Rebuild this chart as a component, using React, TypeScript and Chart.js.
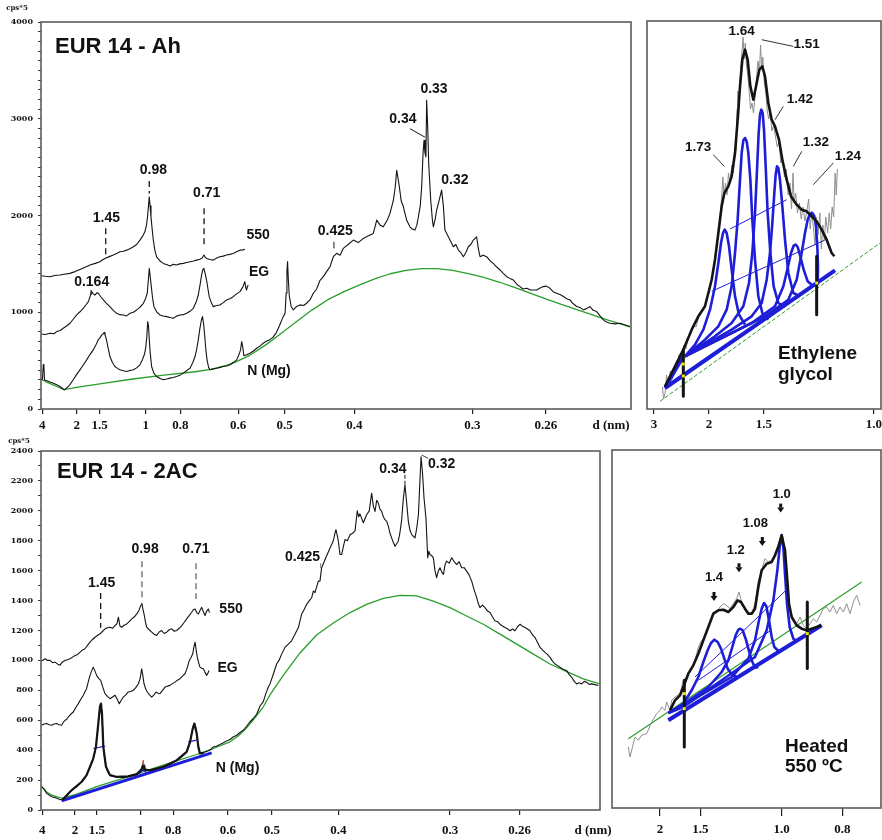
import React, { useEffect, useRef } from "react";
import { Chart, registerables } from "chart.js";
Chart.register(...registerables);

type P = [number, number];

// ---------- axis tick labels (d-spacing, nm) ----------
const WAVELENGTH_NM = 0.15406; // Cu K-alpha
const twoTheta = (d: number) => (2 * Math.asin(WAVELENGTH_NM / (2 * d)) * 180) / Math.PI;

const D_TICKS_MAIN = [4, 2, 1.5, 1, 0.8, 0.6, 0.5, 0.4, 0.3, 0.26];
const D_LABELS_MAIN = ["4", "2", "1.5", "1", "0.8", "0.6", "0.5", "0.4", "0.3", "0.26"];
const D_TICKS_EG = [3, 2, 1.5, 1.0];
const D_LABELS_EG = ["3", "2", "1.5", "1.0"];
const D_TICKS_HEAT = [2, 1.5, 1.0, 0.8];
const D_LABELS_HEAT = ["2", "1.5", "1.0", "0.8"];
const Y_LABELS_AH = [0, 1000, 2000, 3000, 4000];
const Y_LABELS_2AC = [0, 200, 400, 600, 800, 1000, 1200, 1400, 1600, 1800, 2000, 2200, 2400];

// ---------- EUR 14 - Ah (x: 2theta deg, y: cps*5) ----------
const AH_550: P[] = [[2.15,1378],[2.4,1372],[2.7,1367],[3.0,1380],[3.34,1385],[3.6,1392],[3.98,1402],[4.3,1420],[4.62,1443],[4.95,1465],[5.26,1488],[5.6,1505],[5.9,1522],[6.05,1540],[6.22,1556],[6.5,1575],[6.76,1591],[7.0,1610],[7.18,1626],[7.4,1630],[7.61,1642],[7.85,1660],[8.04,1677],[8.25,1700],[8.46,1745],[8.65,1790],[8.78,1831],[8.88,1900],[8.95,1990],[9.02,2120],[9.06,2192],[9.11,2100],[9.17,1986],[9.25,1850],[9.32,1745],[9.42,1640],[9.53,1573],[9.75,1530],[9.96,1505],[10.2,1490],[10.39,1477],[10.6,1495],[10.81,1488],[11.0,1500],[11.24,1505],[11.45,1515],[11.67,1522],[11.9,1530],[12.09,1539],[12.3,1548],[12.45,1560],[12.56,1591],[12.64,1570],[12.73,1556],[12.95,1545],[13.16,1539],[13.38,1560],[13.58,1573],[13.8,1580],[14.01,1591],[14.22,1598],[14.44,1608],[14.65,1625],[14.87,1642],[15.05,1645],[15.18,1650]];
const AH_EG: P[] = [[2.15,776],[2.4,770],[2.7,783],[2.95,778],[3.13,800],[3.35,812],[3.55,835],[3.78,860],[3.98,886],[4.2,930],[4.41,972],[4.62,1005],[4.83,1041],[5.0,1075],[5.16,1110],[5.28,1170],[5.37,1213],[5.47,1190],[5.58,1178],[5.7,1200],[5.8,1196],[5.95,1160],[6.12,1127],[6.33,1090],[6.54,1058],[6.75,1020],[6.97,989],[7.18,975],[7.4,972],[7.6,962],[7.83,989],[8.04,1000],[8.25,1024],[8.46,1050],[8.68,1092],[8.82,1140],[8.93,1196],[9.0,1330],[9.06,1453],[9.12,1370],[9.19,1265],[9.27,1150],[9.36,1058],[9.55,1000],[9.74,972],[9.96,962],[10.17,955],[10.4,945],[10.6,938],[10.81,960],[11.02,972],[11.24,975],[11.45,989],[11.67,1010],[11.88,1041],[12.05,1100],[12.2,1178],[12.32,1290],[12.41,1384],[12.49,1440],[12.56,1453],[12.64,1400],[12.73,1333],[12.82,1240],[12.9,1161],[13.03,1100],[13.16,1058],[13.38,1070],[13.58,1075],[13.8,1100],[14.01,1127],[14.22,1140],[14.44,1161],[14.65,1190],[14.87,1213],[15.05,1260],[15.18,1316],[15.25,1250],[15.29,1230],[15.35,1265],[15.4,1282]];
const AH_NMG: P[] = [[2.15,300],[2.22,310],[2.27,460],[2.31,440],[2.35,300],[2.5,292],[2.7,280],[2.92,267],[3.13,250],[3.34,233],[3.5,212],[3.62,198],[3.75,215],[3.88,233],[4.03,265],[4.19,302],[4.4,355],[4.62,405],[4.83,455],[5.05,508],[5.25,560],[5.47,611],[5.63,660],[5.79,714],[5.92,740],[6.02,766],[6.1,775],[6.16,790],[6.22,770],[6.28,740],[6.35,690],[6.45,610],[6.54,542],[6.7,480],[6.86,439],[7.02,420],[7.18,405],[7.4,395],[7.61,388],[7.82,398],[8.04,405],[8.25,425],[8.46,457],[8.62,510],[8.74,560],[8.83,630],[8.9,740],[8.96,904],[9.01,860],[9.06,720],[9.12,580],[9.21,439],[9.35,370],[9.53,336],[9.75,315],[9.96,302],[10.18,310],[10.39,319],[10.6,325],[10.81,336],[11.03,350],[11.24,371],[11.45,395],[11.67,422],[11.85,480],[11.99,542],[12.1,620],[12.2,714],[12.3,830],[12.4,920],[12.47,955],[12.54,880],[12.61,760],[12.68,620],[12.76,508],[12.86,430],[12.95,405],[13.16,415],[13.38,422],[13.6,430],[13.8,439],[14.02,445],[14.23,457],[14.44,480],[14.66,508],[14.8,560],[14.91,611],[14.98,697],[15.05,640],[15.12,550],[15.3,560],[15.51,577],[15.72,600],[15.94,628],[16.15,650],[16.36,680],[16.55,700],[16.75,714],[16.98,740],[17.2,790],[17.4,860],[17.55,921],[17.66,960],[17.76,990],[17.83,1200],[17.88,1430],[17.92,1523],[17.97,1330],[18.03,1170],[18.15,1060],[18.29,1024],[18.5,1060],[18.72,1076],[18.95,1070],[19.14,1093],[19.36,1130],[19.57,1196],[19.78,1240],[20.0,1330],[20.21,1368],[20.42,1420],[20.64,1471],[20.85,1574],[21.07,1609],[21.28,1590],[21.49,1660],[21.8,1700],[22.13,1746],[22.45,1720],[22.77,1763],[23.1,1790],[23.41,1815],[23.55,1900],[23.63,1952],[23.85,1900],[24.05,1883],[24.3,1950],[24.48,2021],[24.7,2158],[24.82,2300],[24.91,2468],[25.0,2380],[25.08,2296],[25.2,2150],[25.34,2090],[25.55,1950],[25.76,1883],[25.9,1860],[26.08,1849],[26.2,1900],[26.3,1987],[26.42,2100],[26.51,2296],[26.6,2650],[26.66,2777],[26.72,2650],[26.78,2605],[26.83,3190],[26.9,2900],[26.96,2537],[27.09,2158],[27.2,1950],[27.26,1883],[27.36,1950],[27.47,2055],[27.62,2150],[27.79,2262],[27.9,2100],[28.0,1849],[28.22,1780],[28.54,1677],[28.7,1700],[28.86,1643],[29.0,1620],[29.18,1574],[29.35,1620],[29.5,1677],[29.66,1700],[29.82,1746],[30.03,1780],[30.15,1650],[30.25,1574],[30.45,1590],[30.67,1574],[30.9,1530],[31.1,1505],[31.3,1470],[31.53,1437],[31.75,1400],[31.96,1368],[32.17,1350],[32.38,1334],[32.6,1290],[32.81,1265],[33.0,1240],[33.24,1248],[33.5,1230],[33.88,1230],[34.1,1250],[34.3,1265],[34.5,1270],[34.73,1248],[34.95,1210],[35.16,1196],[35.4,1180],[35.59,1162],[35.8,1140],[36.01,1127],[36.2,1090],[36.44,1059],[36.65,1050],[36.87,1024],[37.1,1040],[37.29,1059],[37.5,1020],[37.72,1007],[37.95,960],[38.15,921],[38.35,900],[38.58,887],[38.9,880],[39.22,887],[39.5,870],[39.86,852]];
const AH_BACKGROUND: P[] = [[2.15,305],[2.6,270],[3.1,235],[3.6,200],[4.5,225],[6.0,262],[8.0,310],[10.0,350],[12.0,385],[13.0,410],[14.0,450],[14.5,480],[15.5,555],[16.5,660],[17.5,780],[18.5,905],[19.5,1025],[20.5,1130],[21.5,1210],[22.5,1280],[23.5,1345],[24.5,1398],[25.5,1432],[26.5,1450],[27.5,1450],[28.5,1432],[29.5,1400],[30.5,1360],[31.5,1310],[32.5,1255],[33.5,1195],[34.5,1135],[35.5,1080],[36.5,1025],[37.5,970],[38.5,915],[39.86,850]];

// ---------- EUR 14 - 2AC ----------
const AC_550: P[] = [[2.16,995],[2.39,1011],[2.56,1000],[2.73,1000],[2.9,985],[3.07,989],[3.25,975],[3.4,968],[3.57,990],[3.74,1000],[3.9,1005],[4.08,1011],[4.25,1022],[4.42,1033],[4.6,1040],[4.76,1055],[4.93,1070],[5.09,1078],[5.26,1100],[5.43,1122],[5.6,1140],[5.77,1155],[5.95,1168],[6.11,1178],[6.28,1195],[6.45,1211],[6.62,1218],[6.78,1222],[6.95,1215],[7.12,1233],[7.25,1245],[7.35,1289],[7.45,1230],[7.57,1222],[7.74,1235],[7.91,1244],[8.08,1260],[8.25,1278],[8.42,1290],[8.59,1311],[8.72,1330],[8.81,1355],[8.88,1370],[8.94,1382],[9.0,1345],[9.08,1311],[9.17,1260],[9.26,1222],[9.43,1205],[9.6,1189],[9.77,1175],[9.93,1167],[10.1,1190],[10.27,1200],[10.44,1180],[10.61,1189],[10.78,1205],[10.95,1211],[11.12,1195],[11.29,1200],[11.46,1215],[11.63,1233],[11.8,1255],[11.96,1278],[12.13,1300],[12.3,1322],[12.42,1340],[12.53,1344],[12.64,1320],[12.75,1311],[12.87,1335],[12.98,1355],[13.09,1325],[13.2,1300],[13.32,1330],[13.43,1344],[13.5,1320]];
const AC_EG: P[] = [[2.16,567],[2.33,575],[2.5,578],[2.67,570],[2.84,567],[3.0,575],[3.18,578],[3.35,570],[3.51,567],[3.62,585],[3.74,600],[3.85,605],[3.96,622],[4.13,640],[4.3,655],[4.47,685],[4.64,711],[4.81,740],[4.98,767],[5.09,790],[5.2,811],[5.32,860],[5.43,900],[5.54,930],[5.65,955],[5.76,930],[5.88,900],[6.01,880],[6.15,867],[6.3,820],[6.44,778],[6.61,760],[6.78,744],[6.95,755],[7.12,767],[7.27,740],[7.41,711],[7.55,735],[7.68,755],[7.85,770],[8.02,789],[8.19,792],[8.36,800],[8.53,820],[8.7,844],[8.82,880],[8.92,944],[9.0,900],[9.08,844],[9.19,810],[9.3,789],[9.45,770],[9.6,755],[9.75,770],[9.89,789],[10.03,780],[10.16,778],[10.33,800],[10.5,822],[10.67,828],[10.83,833],[11.0,845],[11.17,855],[11.34,868],[11.51,878],[11.68,895],[11.85,911],[12.0,950],[12.14,1000],[12.26,1020],[12.37,1044],[12.45,1090],[12.53,1122],[12.6,1070],[12.68,1022],[12.77,985],[12.86,955],[12.97,948],[13.09,944],[13.2,920],[13.31,900],[13.4,915],[13.47,933]];
const AC_NMG: P[] = [[2.16,156],[2.33,140],[2.5,111],[2.67,100],[2.84,89],[3.0,85],[3.18,78],[3.35,72],[3.52,67],[3.68,80],[3.85,100],[4.02,118],[4.19,133],[4.36,145],[4.53,156],[4.7,172],[4.87,189],[5.03,210],[5.2,233],[5.32,260],[5.43,289],[5.55,315],[5.65,344],[5.75,380],[5.83,422],[5.92,500],[5.99,578],[6.05,650],[6.1,689],[6.17,711],[6.24,644],[6.29,530],[6.33,422],[6.42,340],[6.51,289],[6.65,250],[6.78,233],[6.95,225],[7.12,222],[7.3,218],[7.46,222],[7.7,215],[7.91,222],[8.15,228],[8.36,233],[8.55,238],[8.69,244],[8.82,258],[8.92,278],[8.98,300],[9.03,322],[9.08,295],[9.14,271],[9.3,265],[9.48,267],[9.7,272],[9.93,278],[10.15,284],[10.38,289],[10.6,297],[10.83,307],[11.05,318],[11.28,333],[11.45,343],[11.62,356],[11.8,370],[11.96,389],[12.08,420],[12.19,455],[12.28,500],[12.37,544],[12.48,578],[12.56,560],[12.64,511],[12.7,460],[12.75,422],[12.86,378],[12.97,385],[13.09,382],[13.25,390],[13.43,396],[13.6,405],[13.76,422],[13.93,425],[14.1,433],[14.27,442],[14.44,449],[14.66,462],[14.89,471],[15.1,488],[15.34,500],[15.56,518],[15.79,533],[16.01,560],[16.24,590],[16.45,610],[16.69,640],[16.92,695],[17.14,725],[17.3,775],[17.48,822],[17.59,843],[17.82,909],[18.04,976],[18.2,1000],[18.38,1042],[18.6,1087],[18.83,1109],[19.05,1131],[19.28,1175],[19.51,1220],[19.73,1309],[19.9,1340],[20.07,1375],[20.25,1400],[20.41,1419],[20.52,1464],[20.63,1453],[20.86,1530],[20.97,1530],[21.08,1620],[21.25,1660],[21.42,1700],[21.65,1752],[21.87,1800],[21.98,1850],[22.05,1874],[22.15,1830],[22.21,1797],[22.32,1708],[22.43,1708],[22.55,1760],[22.66,1808],[22.82,1800],[23.0,1840],[23.17,1850],[23.34,1868],[23.49,2000],[23.58,1960],[23.67,1980],[23.9,1920],[24.12,1974],[24.3,2000],[24.46,2118],[24.58,2030],[24.69,1996],[24.8,2070],[24.91,2052],[25.03,2010],[25.14,1996],[25.25,1960],[25.36,1941],[25.48,1930],[25.59,1896],[25.7,1850],[25.81,1819],[25.92,1790],[26.04,1763],[26.15,1780],[26.26,1797],[26.38,1860],[26.49,1941],[26.6,2080],[26.71,2174],[26.82,2060],[26.94,1930],[27.05,1870],[27.17,1841],[27.28,1830],[27.39,1819],[27.5,1880],[27.62,1974],[27.7,2150],[27.8,2362],[27.9,2250],[28.0,2085],[28.13,1952],[28.25,1686],[28.32,1730],[28.4,1708],[28.52,1700],[28.63,1686],[28.74,1600],[28.85,1553],[28.97,1600],[29.08,1619],[29.2,1590],[29.31,1575],[29.42,1640],[29.53,1664],[29.7,1650],[29.87,1686],[30.04,1660],[30.21,1641],[30.37,1660],[30.54,1619],[30.71,1620],[30.88,1597],[31.05,1570],[31.22,1530],[31.39,1470],[31.56,1420],[31.67,1380],[31.78,1353],[31.95,1370],[32.12,1353],[32.29,1330],[32.46,1320],[32.63,1290],[32.8,1264],[32.97,1260],[33.13,1242],[33.3,1230],[33.47,1220],[33.64,1212],[33.81,1198],[33.98,1210],[34.15,1198],[34.32,1225],[34.49,1242],[34.66,1228],[34.82,1220],[34.99,1210],[35.16,1198],[35.33,1170],[35.5,1153],[35.67,1120],[35.84,1087],[36.0,1070],[36.17,1054],[36.34,1040],[36.51,1020],[36.68,995],[36.85,976],[37.02,965],[37.19,954],[37.42,940],[37.64,932],[37.81,905],[37.98,887],[38.15,860],[38.31,843],[38.48,850],[38.65,843],[38.82,860],[38.99,854],[39.16,840],[39.33,843],[39.55,838],[39.78,832]];
const AC_NMG_FIT: P[] = [[3.6,70],[4.2,133],[4.87,189],[5.2,233],[5.43,289],[5.65,344],[5.83,422],[5.99,578],[6.1,689],[6.17,711],[6.24,644],[6.33,422],[6.51,289],[6.78,233],[7.2,222],[8.0,225],[8.6,240],[8.9,270],[9.03,300],[9.14,270],[9.5,265],[10.4,289],[11.3,333],[11.96,389],[12.19,455],[12.37,544],[12.48,578],[12.64,511],[12.75,422],[12.86,378],[13.1,382]];
const AC_BACKGROUND: P[] = [[2.16,156],[2.5,120],[2.9,97],[3.3,84],[3.55,80],[4.5,105],[5.88,156],[8.13,227],[10.38,300],[12.63,371],[13.76,411],[14.89,456],[15.5,500],[16.0,548],[16.6,620],[17.14,690],[17.59,770],[18.49,900],[19.62,1050],[20.74,1170],[21.87,1250],[23.0,1320],[24.12,1375],[25.25,1415],[26.38,1435],[27.5,1431],[28.63,1397],[29.75,1353],[30.88,1297],[32.0,1242],[33.13,1176],[34.26,1109],[35.39,1042],[36.51,976],[37.64,925],[38.76,876],[39.89,843]];
const AC_FIT_BASE: P[] = [[3.52,62],[13.65,382]];
const AC_FIT_HALF_15: P[] = [[5.66,411],[6.45,427]];
const AC_FIT_HALF_071: P[] = [[12.07,455],[12.64,467]];
const AC_FIT_098: P[] = [[8.58,236],[8.8,248],[9.04,275],[9.2,252],[9.37,250]];
const AC_MARK_098: P[] = [[9.03,300],[9.03,335]];

// ---------- Ethylene glycol detail (x: 2theta, y: relative intensity) ----------
const EG_RAW: P[] = [[3.17,22],[3.2,10],[3.24,16],[3.28,34],[3.33,22],[3.38,38],[3.43,30],[3.5,44],[3.56,40],[3.62,55],[3.68,50],[3.74,64],[3.8,60],[3.86,72],[3.93,76],[4.0,84],[4.07,82],[4.14,92],[4.21,96],[4.28,100],[4.35,110],[4.42,116],[4.49,130],[4.55,142],[4.61,158],[4.67,176],[4.72,196],[4.76,214],[4.79,232],[4.82,212],[4.86,226],[4.9,214],[4.94,236],[4.98,226],[5.03,244],[5.07,236],[5.11,262],[5.14,258],[5.17,300],[5.19,318],[5.21,290],[5.24,320],[5.27,342],[5.3,356],[5.33,372],[5.36,350],[5.39,366],[5.42,344],[5.45,336],[5.49,320],[5.53,300],[5.57,306],[5.61,296],[5.65,312],[5.69,330],[5.73,348],[5.77,336],[5.8,364],[5.83,340],[5.86,352],[5.9,326],[5.94,316],[5.98,298],[6.02,290],[6.06,300],[6.1,278],[6.15,284],[6.2,272],[6.25,262],[6.3,268],[6.34,246],[6.39,252],[6.44,232],[6.49,240],[6.54,214],[6.59,226],[6.63,200],[6.67,236],[6.7,206],[6.74,216],[6.79,196],[6.84,206],[6.89,190],[6.94,202],[6.99,188],[7.04,198],[7.09,210],[7.13,180],[7.17,198],[7.21,184],[7.26,164],[7.3,192],[7.34,174],[7.39,196],[7.43,160],[7.47,184],[7.51,168],[7.55,192],[7.6,176],[7.64,196],[7.68,180],[7.72,202],[7.76,192],[7.8,236],[7.83,214],[7.86,240]];
const EG_FIT: P[] = [[3.238,22.7],[3.506,42.7],[3.729,59.3],[3.953,79.3],[4.132,92.7],[4.31,102.7],[4.489,129.3],[4.578,149.3],[4.668,176],[4.757,202.7],[4.829,216],[4.936,222.7],[5.025,232.7],[5.115,256],[5.186,289.3],[5.249,322.7],[5.311,349.3],[5.383,359.3],[5.454,349.3],[5.526,322.7],[5.606,309.3],[5.696,326],[5.767,339.3],[5.847,342.7],[5.919,332.7],[6.008,306],[6.098,289.3],[6.187,282.7],[6.294,269.3],[6.384,249.3],[6.5,229.3],[6.616,212.7],[6.768,204.3],[6.902,199.3],[7.036,197.7],[7.17,192.7],[7.304,187.7],[7.438,179.3],[7.572,169.3],[7.706,156],[7.778,152.7]];
const EG_PEAK_1: P[] = [[3.774,52.7],[4.042,64.3],[4.266,79.3],[4.444,99.3],[4.578,122.7],[4.668,146],[4.739,166],[4.793,176],[4.838,179.3],[4.891,176],[4.954,162.7],[5.025,139.3],[5.115,112.7],[5.222,94.3],[5.383,84.3]];
const EG_PEAK_2: P[] = [[3.774,52.7],[4.31,69.3],[4.668,82.7],[4.891,99.3],[5.025,122.7],[5.115,156],[5.186,189.3],[5.249,229.3],[5.293,256],[5.338,268.7],[5.383,271],[5.427,267.7],[5.472,256],[5.526,229.3],[5.579,189.3],[5.651,149.3],[5.74,112.7],[5.847,96],[6.008,89.3]];
const EG_PEAK_3: P[] = [[3.774,52.7],[4.578,72.7],[5.025,86],[5.338,102.7],[5.49,126],[5.579,156],[5.651,196],[5.705,239.3],[5.749,276],[5.785,294.7],[5.821,299.3],[5.856,296],[5.892,279.3],[5.937,242.7],[5.99,196],[6.062,156],[6.151,122.7],[6.276,106],[6.455,102]];
const EG_PEAK_4: P[] = [[3.774,52.7],[5.025,79.3],[5.561,92.7],[5.83,106],[5.964,129.3],[6.053,156],[6.116,186],[6.169,216],[6.205,234.3],[6.241,242.7],[6.276,241],[6.321,229.3],[6.384,202.7],[6.455,169.3],[6.545,136],[6.679,116],[6.857,112.7]];
const EG_PEAK_5: P[] = [[3.774,52.7],[5.561,86],[6.187,102.7],[6.411,122.7],[6.527,141],[6.616,156],[6.687,163.3],[6.741,164.3],[6.795,162],[6.866,152.7],[6.956,139.3],[7.063,127.7],[7.215,122.7]];
const EG_PEAK_6: P[] = [[3.774,52.7],[5.919,92.7],[6.545,109.3],[6.768,129.3],[6.902,156],[6.991,176],[7.063,189.3],[7.125,195.3],[7.188,196],[7.242,192.7],[7.286,182.7],[7.322,162.7],[7.34,142.7],[7.331,124.3]];
const EG_BASE: P[] = [[3.238,21],[7.796,138.7]];
const EG_BASE_LEAD: P[] = [[3.238,21],[3.729,52.7]];
const EG_HALF_1: P[] = [[4.489,117.7],[7.51,168.7]];
const EG_HALF_2: P[] = [[4.981,180],[6.5,209.3]];
const EG_BACKGROUND: P[] = [[3.104,7.7],[9.002,166]];
const EG_LIMIT_LEFT: P[] = [[3.729,59.3],[3.729,12.7]];
const EG_LIMIT_RIGHT: P[] = [[7.304,152.7],[7.304,94.3]];

// ---------- Heated 550 C detail ----------
const HT_RAW: P[] = [[3.265,61],[3.326,51],[3.447,64.3],[3.508,71],[3.629,67.7],[3.75,72.7],[3.932,74.3],[4.114,86],[4.296,94.3],[4.417,97.7],[4.478,101],[4.599,97.7],[4.659,106],[4.781,97.7],[4.841,107.7],[4.962,111],[5.144,114.3],[5.265,127.7],[5.387,131],[5.508,137.7],[5.569,141],[5.69,147.7],[5.811,161],[5.932,167.7],[6.053,171],[6.235,184.3],[6.356,194.3],[6.478,196],[6.599,201],[6.72,204.3],[6.841,202.7],[6.962,199.3],[7.084,204.3],[7.205,209.3],[7.29,216],[7.387,206],[7.508,199.3],[7.629,196],[7.75,194.3],[7.872,204.3],[7.993,227.7],[8.114,237.7],[8.235,249.3],[8.356,246],[8.478,247.7],[8.599,254.3],[8.72,264.3],[8.841,274.3],[8.962,254.3],[9.06,217.7],[9.144,197.7],[9.265,189.3],[9.387,184.3],[9.508,191],[9.629,182.7],[9.75,179.3],[9.872,184.3],[9.993,189.3],[10.114,186],[10.235,192.7],[10.356,199.3],[10.478,201],[10.599,196],[10.72,202.7],[10.841,194.3],[10.962,201],[11.084,196],[11.205,204.3],[11.326,194.3],[11.447,206],[11.569,212.7],[11.69,202.7]];
const HT_FIT: P[] = [[4.781,97.7],[4.962,107.7],[5.144,112.7],[5.265,121],[5.447,134.3],[5.629,142.7],[5.811,154.3],[5.993,167.7],[6.175,181],[6.356,194.3],[6.538,197.7],[6.72,198.3],[6.902,196],[7.084,201],[7.241,207.7],[7.362,206],[7.508,199.3],[7.629,194.3],[7.75,194.3],[7.872,199.3],[7.993,221],[8.114,237.7],[8.296,244.3],[8.478,246],[8.599,252.7],[8.72,261],[8.841,272.7],[8.962,257.7],[9.047,227.7],[9.108,204.3],[9.205,191],[9.387,182.7],[9.569,179.3],[9.75,177.7],[9.932,179.3],[10.114,181],[10.272,182.7]];
const HT_PEAK_14: P[] = [[4.72,95],[5.265,104.3],[5.568,117.7],[5.811,131],[5.993,146],[6.15,157.7],[6.271,165],[6.393,168.3],[6.514,166],[6.635,159.3],[6.756,149.3],[6.878,139.3],[7.023,133.7],[7.205,131]];
const HT_PEAK_12: P[] = [[4.72,95],[5.265,103.7],[6.175,121],[6.659,136],[6.902,147.7],[7.047,161],[7.168,172.7],[7.265,178.3],[7.338,179.3],[7.423,177.7],[7.532,169.3],[7.629,159.3],[7.75,147.7],[7.872,140.3],[7.993,141]];
const HT_PEAK_108: P[] = [[4.72,95],[5.265,102.7],[7.023,131],[7.629,149.3],[7.872,167.7],[8.017,187.7],[8.114,199.3],[8.199,205],[8.284,201.7],[8.381,187.7],[8.478,171],[8.575,161],[8.72,157]];
const HT_PEAK_10: P[] = [[4.72,95],[5.265,101],[7.872,151],[8.296,177.7],[8.538,207.7],[8.684,237.7],[8.769,261],[8.841,272.7],[8.902,261],[8.962,234.3],[9.035,204.3],[9.132,181],[9.265,169.3],[9.387,167]];
const HT_BASE: P[] = [[4.72,87.7],[10.296,182.7]];
const HT_HALF_1: P[] = [[5.69,131],[9.06,219.3]];
const HT_HALF_2: P[] = [[5.811,127.7],[8.478,178.3]];
const HT_BACKGROUND: P[] = [[3.265,69.3],[11.75,226]];
const HT_LIMIT_LEFT: P[] = [[5.301,127.7],[5.301,61]];
const HT_LIMIT_RIGHT: P[] = [[9.773,206],[9.773,139.4]];

// ---------- styles ----------
const BLACK = "#141414";
const GRAY = "#8e8e8e";
const BLUE = "#1e1ed8";
const GREEN = "#2a9e2a";
const FRAME = "#5c5c5c";
const SANS = 'Arial, "Liberation Sans", Helvetica, sans-serif';
const SERIF = '"Liberation Serif", "Times New Roman", serif';

type Series = { data: P[]; color: string; width: number; dash?: number[] };
type Panel = {
  series: Series[];
  xMin: number; xMax: number; yMin: number; yMax: number;
  dTicks: number[]; dLabels: string[];
  pad: { left: number; top: number; right: number; bottom: number };
  xAxisHeight: number; tickLen: number; tickPad: number;
  yAxis?: { width: number; step: number; labels: number[] };
  draw: (chart: any) => void;
};

function txt(ctx: CanvasRenderingContext2D, s: string, x: number, y: number, font: string, align: CanvasTextAlign = "center", base: CanvasTextBaseline = "middle") {
  ctx.save();
  ctx.font = font;
  ctx.fillStyle = "#111";
  ctx.textAlign = align;
  ctx.textBaseline = base;
  ctx.fillText(s, x, y);
  ctx.restore();
}
function seg(ctx: CanvasRenderingContext2D, x1: number, y1: number, x2: number, y2: number, color: string, w: number, dash: number[] = []) {
  ctx.save();
  ctx.strokeStyle = color;
  ctx.lineWidth = w;
  ctx.setLineDash(dash);
  ctx.beginPath();
  ctx.moveTo(x1, y1);
  ctx.lineTo(x2, y2);
  ctx.stroke();
  ctx.restore();
}

function config(p: Panel): any {
  const n = p.series.length;
  const datasets = p.series.map((s, i) => ({
    data: s.data.map(([x, y]) => ({ x, y })),
    borderColor: s.color,
    borderWidth: s.width,
    borderDash: s.dash || [],
    pointRadius: 0,
    fill: false,
    tension: 0,
    borderJoinStyle: "round",
    order: n - i,
  }));
  const y = p.yAxis
    ? {
        type: "linear",
        min: p.yMin,
        max: p.yMax,
        afterFit: (s: any) => { s.width = p.yAxis!.width; s.paddingTop = 0; s.paddingBottom = 0; },
        ticks: {
          stepSize: p.yAxis.step,
          autoSkip: false,
          padding: 5,
          color: "#111",
          font: { family: '"DejaVu Serif", serif', size: 8, weight: "bold" },
          callback: (v: number) => (p.yAxis!.labels.includes(Math.round(v)) ? String(Math.round(v)) : ""),
        },
        grid: { drawOnChartArea: false, drawTicks: true, tickLength: 3, color: "#333", lineWidth: 1 },
        border: { display: false },
      }
    : { type: "linear", display: false, min: p.yMin, max: p.yMax };
  return {
    type: "line",
    data: { datasets },
    options: {
      animation: false,
      responsive: false,
      devicePixelRatio: 1,
      events: [],
      layout: { padding: p.pad },
      plugins: { legend: { display: false }, tooltip: { enabled: false }, title: { display: false } },
      scales: {
        x: {
          type: "linear",
          min: p.xMin,
          max: p.xMax,
          afterBuildTicks: (scale: any) => { scale.ticks = p.dTicks.map((d) => ({ value: twoTheta(d) })); },
          afterFit: (scale: any) => { scale.height = p.xAxisHeight; scale.paddingLeft = 0; scale.paddingRight = 0; },
          ticks: {
            autoSkip: false,
            maxRotation: 0,
            minRotation: 0,
            padding: p.tickPad,
            color: "#111",
            font: { family: SERIF, size: 13, weight: "bold" },
            callback: (_v: number, i: number) => p.dLabels[i],
          },
          grid: { drawOnChartArea: false, drawTicks: true, tickLength: p.tickLen, color: "#222", lineWidth: 1.2 },
          border: { display: false },
        },
        y,
      },
    },
    plugins: [
      {
        id: "decor",
        afterDatasetsDraw: (chart: any) => {
          const { ctx, chartArea: a } = chart;
          ctx.save();
          ctx.strokeStyle = FRAME;
          ctx.lineWidth = 1.6;
          ctx.strokeRect(a.left, a.top, a.right - a.left, a.bottom - a.top);
          ctx.restore();
          p.draw(chart);
        },
      },
    ],
  };
}

const LBL = `bold 14px ${SANS}`;

// annotation layouts (positions in data coordinates)
const AH_LABELS: [string, number, number][] = [["1.45",6.31,1975],["0.98",9.32,2467],["0.71",12.74,2230],["550",16.03,1797],["EG",16.09,1416],["0.164",5.37,1307],["N (Mg)",16.73,388],["0.425",20.98,1838],["0.34",25.31,2993],["0.33",27.3,3302],["0.32",28.64,2364]];
const AC_LABELS: [string, number, number][] = [["1.45",6.22,1517],["0.98",9.15,1743],["0.71",12.59,1743],["550",14.96,1344],["EG",14.72,951],["N (Mg)",15.4,283],["0.425",19.79,1690],["0.34",25.9,2282],["0.32",29.19,2309]];
const EG_LABELS: [string, number, number][] = [["1.64",5.294,377.6],["1.51",7.037,364.3],["1.42",6.857,309.3],["1.73",4.123,261.3],["1.32",7.281,266.3],["1.24",8.144,252.3]];
const HT_LABELS: [string, number, number][] = [["1.4",6.381,231],["1.2",7.173,257.7],["1.08",7.883,284.4],["1.0",8.843,313.7]];

function helpers(chart: any) {
  const X = (v: number) => chart.scales.x.getPixelForValue(v);
  const Y = (v: number) => chart.scales.y.getPixelForValue(v);
  return { ctx: chart.ctx as CanvasRenderingContext2D, X, Y };
}

const panelAh: Panel = {
  series: [
    { data: AH_BACKGROUND, color: GREEN, width: 1.3 },
    { data: AH_550, color: BLACK, width: 1.1 },
    { data: AH_EG, color: BLACK, width: 1.1 },
    { data: AH_NMG, color: BLACK, width: 1.1 },
  ],
  xMin: 2.124, xMax: 39.92, yMin: 0, yMax: 4000,
  dTicks: D_TICKS_MAIN, dLabels: D_LABELS_MAIN,
  pad: { left: 0, top: 22, right: 9, bottom: 0 },
  xAxisHeight: 27, tickLen: 5, tickPad: 4,
  yAxis: { width: 41, step: 100, labels: Y_LABELS_AH },
  draw: (chart) => {
    const { ctx, X, Y } = helpers(chart);
    AH_LABELS.forEach(([s, x, y]) => txt(ctx, s, X(x), Y(y), LBL));
    [[6.27,1869,1591],[9.06,2357,2227],[12.57,2075,1694]].forEach(([x, y1, y2]) => seg(ctx, X(x), Y(y1), X(x), Y(y2), BLACK, 1.3, [6, 4]));
    seg(ctx, X(5.33), Y(1230), X(5.33), Y(1178), BLACK, 1);
    seg(ctx, X(20.89), Y(1728), X(20.89), Y(1660), BLACK, 1);
    seg(ctx, X(25.76), Y(2897), X(26.72), Y(2810), BLACK, 1);
    txt(ctx, "EUR 14 - Ah", 55, 53, `bold 22px ${SANS}`, "left", "alphabetic");
    txt(ctx, "cps*5", 17, 8, `bold 7px "DejaVu Serif", serif`);
    txt(ctx, "d (nm)", 611, 425.5, `bold 13px ${SERIF}`);
  },
};

const panelEG: Panel = {
  series: [
    { data: EG_BACKGROUND, color: GREEN, width: 1, dash: [4, 2] },
    { data: EG_RAW, color: GRAY, width: 1 },
    { data: EG_HALF_1, color: BLUE, width: 1 },
    { data: EG_HALF_2, color: BLUE, width: 1 },
    { data: EG_BASE, color: BLUE, width: 4 },
    { data: EG_BASE_LEAD, color: BLUE, width: 3.5 },
    { data: EG_PEAK_1, color: BLUE, width: 2.6 },
    { data: EG_PEAK_2, color: BLUE, width: 2.6 },
    { data: EG_PEAK_3, color: BLUE, width: 2.6 },
    { data: EG_PEAK_4, color: BLUE, width: 2.6 },
    { data: EG_PEAK_5, color: BLUE, width: 2.6 },
    { data: EG_PEAK_6, color: BLUE, width: 2.6 },
    { data: EG_FIT, color: BLACK, width: 2.6 },
    { data: EG_LIMIT_LEFT, color: BLACK, width: 3 },
    { data: EG_LIMIT_RIGHT, color: BLACK, width: 3 },
  ],
  xMin: 2.755, xMax: 9.029, yMin: 0, yMax: 388,
  dTicks: D_TICKS_EG, dLabels: D_LABELS_EG,
  pad: { left: 7, top: 21, right: 1, bottom: 0 },
  xAxisHeight: 27, tickLen: 5, tickPad: 3,
  draw: (chart) => {
    const { ctx, X, Y } = helpers(chart);
    EG_LABELS.forEach(([s, x, y]) => txt(ctx, s, X(x), Y(y), `bold 13.5px ${SANS}`));
    [[5.83,369.3,6.678,362.6],[6.187,289.3,6.41,302.6],[4.533,254.3,4.828,242.6],[6.678,242.6,6.903,257.6],[7.214,224.3,7.75,246]].forEach(([a, b, c, d]) => seg(ctx, X(a), Y(b), X(c), Y(d), "#333", 1));
    ctx.fillStyle = "#f2e600";
    [[3.729,45],[3.729,33],[7.304,126]].forEach(([x, y]) => ctx.fillRect(X(x) - 1.5, Y(y) - 1.5, 3, 3));
    txt(ctx, "Ethylene", 138, 359.3, `bold 19px ${SANS}`, "left", "alphabetic");
    txt(ctx, "glycol", 138, 380, `bold 19px ${SANS}`, "left", "alphabetic");
  },
};

const panel2AC: Panel = {
  series: [
    { data: AC_BACKGROUND, color: GREEN, width: 1.3 },
    { data: AC_FIT_BASE, color: BLUE, width: 3 },
    { data: AC_FIT_HALF_15, color: BLUE, width: 1.2 },
    { data: AC_FIT_HALF_071, color: BLUE, width: 1.2 },
    { data: AC_FIT_098, color: BLUE, width: 1.5 },
    { data: AC_550, color: BLACK, width: 1.1 },
    { data: AC_EG, color: BLACK, width: 1.1 },
    { data: AC_NMG, color: BLACK, width: 1.1 },
    { data: AC_NMG_FIT, color: BLACK, width: 2.2 },
    { data: AC_MARK_098, color: "#e0502a", width: 1.5 },
  ],
  xMin: 2.119, xMax: 39.89, yMin: 0, yMax: 2400,
  dTicks: D_TICKS_MAIN, dLabels: D_LABELS_MAIN,
  pad: { left: 0, top: 15, right: 14, bottom: 0 },
  xAxisHeight: 30, tickLen: 5, tickPad: 8,
  yAxis: { width: 41, step: 100, labels: Y_LABELS_2AC },
  draw: (chart) => {
    const { ctx, X, Y } = helpers(chart);
    AC_LABELS.forEach(([s, x, y]) => txt(ctx, s, X(x), Y(y), LBL));
    seg(ctx, X(6.15), Y(1450), X(6.15), Y(1218), BLACK, 1.3, [6, 4]);
    seg(ctx, X(8.94), Y(1663), X(8.94), Y(1410), "#9a9a9a", 2, [6, 4]);
    seg(ctx, X(12.59), Y(1650), X(12.59), Y(1410), "#9a9a9a", 2, [6, 4]);
    seg(ctx, X(21.02), Y(1650), X(21.02), Y(1617), "#777", 1);
    seg(ctx, X(26.71), Y(2242), X(26.71), Y(2176), "#444", 1.2, [4, 2]);
    seg(ctx, X(27.84), Y(2373), X(28.29), Y(2351), "#444", 1);
    txt(ctx, "EUR 14 - 2AC", 57, 42, `bold 22px ${SANS}`, "left", "alphabetic");
    txt(ctx, "cps*5", 19, 5, `bold 7px "DejaVu Serif", serif`);
    txt(ctx, "d (nm)", 593, 395, `bold 13px ${SERIF}`);
  },
};

const panelHeat: Panel = {
  series: [
    { data: HT_BACKGROUND, color: GREEN, width: 1.2 },
    { data: HT_RAW, color: GRAY, width: 1 },
    { data: HT_HALF_1, color: BLUE, width: 1 },
    { data: HT_HALF_2, color: BLUE, width: 1 },
    { data: HT_BASE, color: BLUE, width: 4 },
    { data: HT_PEAK_14, color: BLUE, width: 2.6 },
    { data: HT_PEAK_12, color: BLUE, width: 2.6 },
    { data: HT_PEAK_108, color: BLUE, width: 2.6 },
    { data: HT_PEAK_10, color: BLUE, width: 2.6 },
    { data: HT_FIT, color: BLACK, width: 2.6 },
    { data: HT_LIMIT_LEFT, color: BLACK, width: 3 },
    { data: HT_LIMIT_RIGHT, color: BLACK, width: 3 },
  ],
  xMin: 2.672, xMax: 12.453, yMin: 0, yMax: 358,
  dTicks: D_TICKS_HEAT, dLabels: D_LABELS_HEAT,
  pad: { left: 6, top: 14, right: 1, bottom: 0 },
  xAxisHeight: 32, tickLen: 8, tickPad: 6,
  draw: (chart) => {
    const { ctx, X, Y } = helpers(chart);
    HT_LABELS.forEach(([s, x, y]) => txt(ctx, s, X(x), Y(y), `bold 13px ${SANS}`));
    [[6.381,216],[7.29,244.7],[8.137,271],[8.806,304.4]].forEach(([x, y]) => {
      const px = X(x), py = Y(y);
      ctx.fillStyle = "#111";
      ctx.fillRect(px - 1.5, py, 3, 4);
      ctx.beginPath();
      ctx.moveTo(px - 3.5, py + 4);
      ctx.lineTo(px + 3.5, py + 4);
      ctx.lineTo(px, py + 9);
      ctx.closePath();
      ctx.fill();
    });
    ctx.fillStyle = "#f2e600";
    [[5.301,114.4],[5.301,99.4],[9.773,174.4]].forEach(([x, y]) => ctx.fillRect(X(x) - 1.5, Y(y) - 1.5, 3, 3));
    txt(ctx, "Heated", 179, 316.3, `bold 19px ${SANS}`, "left", "alphabetic");
    txt(ctx, "550 \u00baC", 179, 336.3, `bold 19px ${SANS}`, "left", "alphabetic");
  },
};

function PanelCanvas({ left, top, width, height, panel }: { left: number; top: number; width: number; height: number; panel: Panel }) {
  const ref = useRef<HTMLCanvasElement>(null);
  useEffect(() => {
    const chart = new Chart(ref.current as HTMLCanvasElement, config(panel));
    return () => chart.destroy();
  }, [panel]);
  return <canvas ref={ref} width={width} height={height} style={{ position: "absolute", left, top, width, height }} />;
}

export default function App() {
  return (
    <div style={{ position: "absolute", left: 0, top: 0, width: 882, height: 840, background: "#fff", overflow: "hidden" }}>
      <PanelCanvas left={0} top={0} width={640} height={436} panel={panelAh} />
      <PanelCanvas left={640} top={0} width={242} height={436} panel={panelEG} />
      <PanelCanvas left={0} top={436} width={614} height={404} panel={panel2AC} />
      <PanelCanvas left={606} top={436} width={276} height={404} panel={panelHeat} />
    </div>
  );
}
